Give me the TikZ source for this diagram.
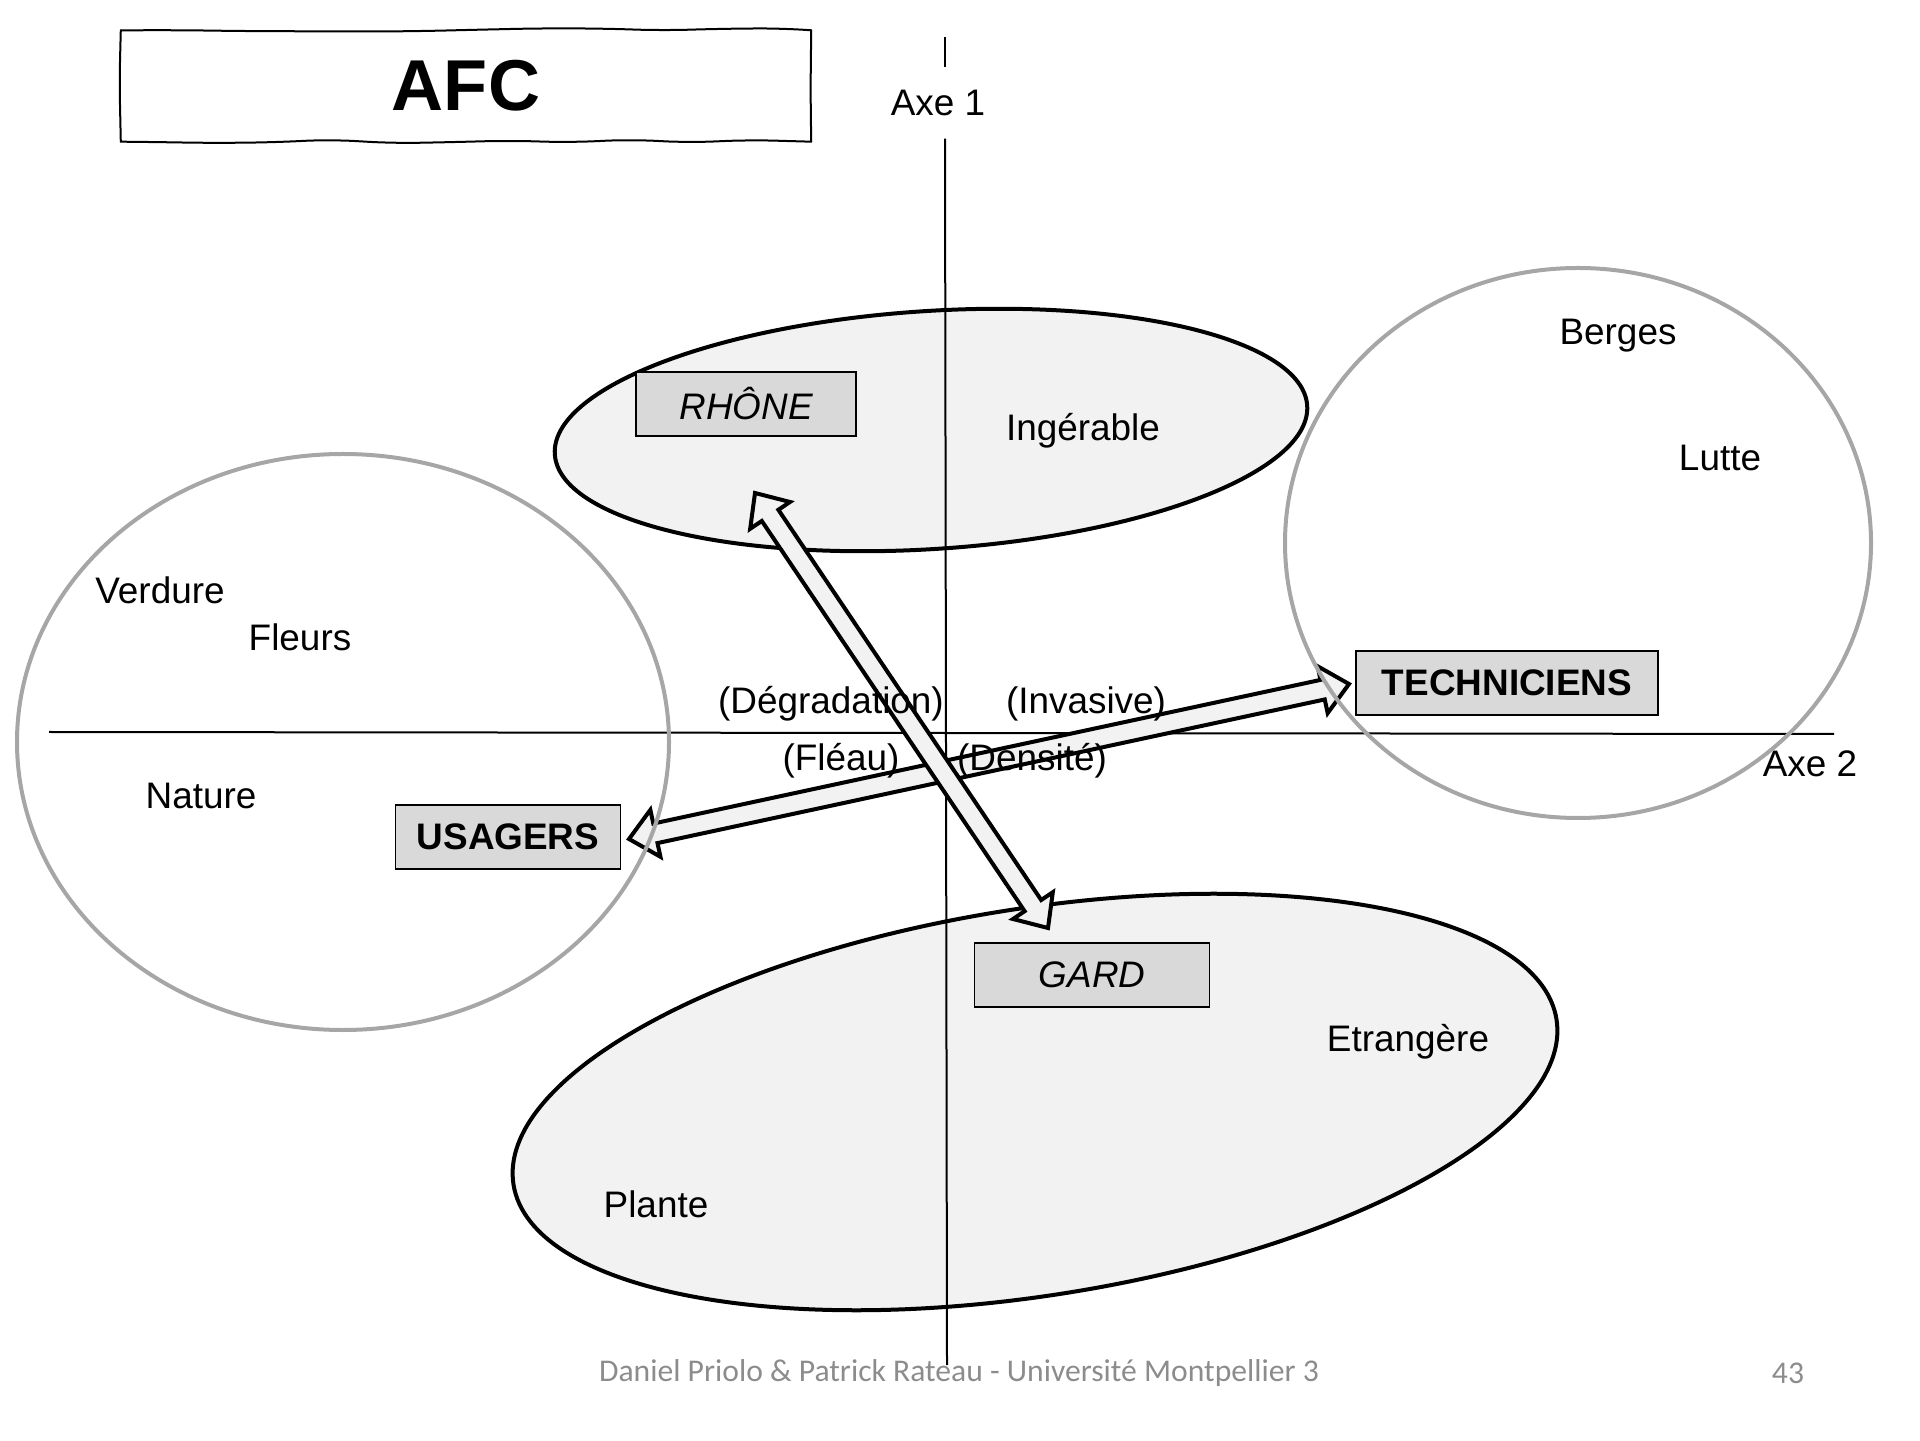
\documentclass[tikz,border=0pt]{standalone}
\usepackage{fontspec}
\setmainfont{Liberation Sans}
\newfontfamily\footerfont{Carlito}
\usetikzlibrary{calc}
\usetikzlibrary{decorations.pathmorphing}

\definecolor{ovalfill}{HTML}{F2F2F2}
\definecolor{boxfill}{HTML}{D9D9D9}
\definecolor{ringgray}{HTML}{A6A6A6}
\definecolor{footgray}{HTML}{8C8C8C}

\newcommand{\ArrHeadLen}{2.7mm}
\newcommand{\ArrHeadW}{2.4mm}
\newcommand{\ArrShaftW}{1.0mm}
\newcommand{\HollowArrow}[2]{%
  \draw[hollowarrow] (#1)
    -- ($($(#1)!\ArrHeadLen!(#2)$)!\ArrHeadW!90:(#2)$)
    -- ($($(#1)!\ArrHeadLen!(#2)$)!\ArrShaftW!90:(#2)$)
    -- ($($(#2)!\ArrHeadLen!(#1)$)!\ArrShaftW!-90:(#1)$)
    -- ($($(#2)!\ArrHeadLen!(#1)$)!\ArrHeadW!-90:(#1)$)
    -- (#2)
    -- ($($(#2)!\ArrHeadLen!(#1)$)!\ArrHeadW!90:(#1)$)
    -- ($($(#2)!\ArrHeadLen!(#1)$)!\ArrShaftW!90:(#1)$)
    -- ($($(#1)!\ArrHeadLen!(#2)$)!\ArrShaftW!-90:(#2)$)
    -- ($($(#1)!\ArrHeadLen!(#2)$)!\ArrHeadW!-90:(#2)$)
    -- cycle;}

\begin{document}
\begin{tikzpicture}
\tikzstyle{oval}=[draw = black, line width = 0.4mm, fill = ovalfill]
\tikzstyle{ring}=[draw = ringgray, line width = 0.4mm]
\tikzstyle{axis}=[draw = black, line width = 0.2mm]
\tikzstyle{hollowarrow}=[draw = black, line width = 0.4mm, fill = ovalfill, line join = miter]
\tikzstyle{word}=[inner sep = 0pt, font = \fontsize{10.5}{12}\selectfont]
\tikzstyle{groupbox}=[draw = black, line width = 0.15mm, fill = boxfill,
                      inner sep = 0pt, minimum height = 0.64cm,
                      font = \fontsize{10.5}{12}\selectfont]
\tikzstyle{sketch}=[draw = black, line width = 0.2mm, line cap = round, decorate,
                    decoration = {random steps, segment length = 6mm, amplitude = 0.25mm},
                    rounded corners = 2.5mm]
\pgfmathsetseed{11}
\useasboundingbox (0,0) rectangle (19.2,14.4);

% zones
\draw[oval, rotate around = {3.7:(9.31,10.10)}] (9.31,10.10) ellipse [x radius = 3.77, y radius = 1.19];
\draw[oval, rotate around = {9:(10.35,3.38)}] (10.35,3.38) ellipse [x radius = 5.28, y radius = 1.935];

% axes
\coordinate (ax1top) at (9.45,14.03);
\coordinate (ax1bot) at (9.47,0.75);
\node[word, minimum height = 0.7cm] (axe1) at (9.38,13.37) {Axe 1};
\draw[axis] (ax1top) -- (ax1top |- axe1.north);
\draw[axis] (ax1top |- axe1.south) -- (ax1bot);
\coordinate (ax2left) at (0.49,7.08);
\coordinate (ax2right) at (18.34,7.06);
\draw[axis] (ax2left) -- (ax2right);
\node[word] (axe2) at (18.10,6.76) {Axe 2};

% oppositions
\coordinate (usagersTip) at (6.29,6.01);
\coordinate (techTip) at (13.49,7.56);
\coordinate (rhoneTip) at (7.55,9.47);
\coordinate (gardTip) at (10.48,5.12);
\HollowArrow{usagersTip}{techTip}
\HollowArrow{rhoneTip}{gardTip}

\draw[ring] (3.43,6.98) ellipse [x radius = 3.26, y radius = 2.88];
\draw[ring] (15.78,8.97) ellipse [x radius = 2.93, y radius = 2.75];

% groups
\node[groupbox, minimum width = 2.20cm, font = \fontsize{10.5}{12}\selectfont\itshape] (rhone) at (7.46,10.36) {RHÔNE};
\node[groupbox, minimum width = 2.35cm, font = \fontsize{10.5}{12}\selectfont\itshape] (gard) at (10.92,4.65) {GARD};
\node[groupbox, minimum width = 2.25cm, font = \fontsize{10.5}{12}\selectfont\bfseries] (usagers) at (5.08,6.03) {USAGERS};
\node[groupbox, minimum width = 3.02cm, font = \fontsize{10.5}{12}\selectfont\bfseries] (techniciens) at (15.07,7.57) {TECHNICIENS};

% words
\node[word] (ingerable) at (10.83,10.09) {Ingérable};
\node[word] (berges) at (16.18,11.04) {Berges};
\node[word] (lutte) at (17.20,9.82) {Lutte};
\node[word] (verdure) at (1.60,8.50) {Verdure};
\node[word] (fleurs) at (3.00,8.03) {Fleurs};
\node[word] (nature) at (2.01,6.44) {Nature};
\node[word] (etrangere) at (14.08,3.98) {Etrangère};
\node[word] (plante) at (6.56,2.36) {Plante};
\node[word] (degradation) at (8.31,7.36) {(Dégradation)};
\node[word] (invasive) at (10.86,7.36) {(Invasive)};
\node[word] (fleau) at (8.41,6.79) {(Fléau)};
\node[word] (densite) at (10.32,6.79) {(Densité)};

% title and footer
\node[minimum width = 6.89cm, minimum height = 1.10cm, font = \fontsize{20.5}{24}\selectfont\bfseries] (title) at (4.66,13.54) {AFC};
\draw[sketch] (title.north west) -- (title.north east);
\draw[sketch] (title.north east) -- (title.south east);
\draw[sketch] (title.south east) -- (title.south west);
\draw[sketch] (title.south west) -- (title.north west);
\node[font = \footerfont\fontsize{9}{11}\selectfont, text = footgray] (credit) at (9.59,0.67) {Daniel Priolo \& Patrick Rateau - Université Montpellier 3};
\node[font = \footerfont\fontsize{9}{11}\selectfont, text = footgray] (pagenum) at (17.88,0.67) {43};
\end{tikzpicture}
\end{document}
